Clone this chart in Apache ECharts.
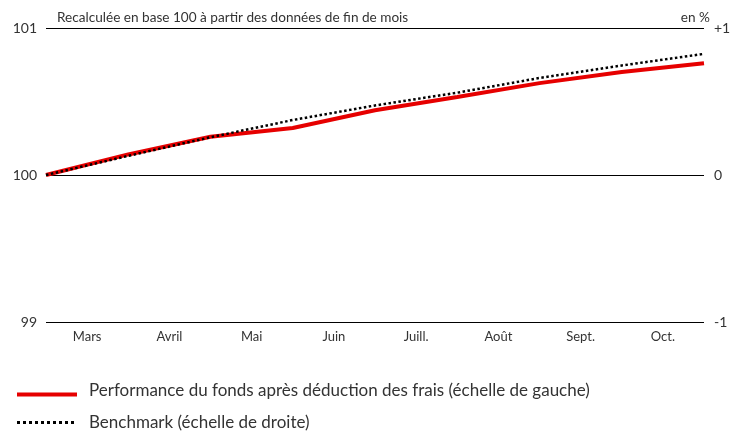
<!DOCTYPE html>
<html>
<head>
<meta charset="utf-8">
<script src="https://cdn.jsdelivr.net/npm/echarts@6/dist/echarts.min.js"></script>
<style>
  html, body { margin: 0; padding: 0; background: #fff; }
  #chart { width: 737px; height: 434px; }
</style>
</head>
<body>
<div id="chart"></div>
<script>
// mois affichés sous l'axe (au centre de chaque intervalle)
const months = ["Mars", "Avril", "Mai", "Juin", "Juill.", "Août", "Sept.", "Oct."];
// valeurs de fin de mois, base 100 (fonds) et en % (benchmark)
const fundValues = [100.00, 100.14, 100.26, 100.32, 100.44, 100.53, 100.625, 100.70, 100.76];
const benchValues = [0.00, 0.13, 0.257, 0.374, 0.473, 0.56, 0.66, 0.745, 0.824];
const leftTicks = [99, 100, 101];
const rightTicks = [-1, 0, 1];

const fundName = "Performance du fonds après déduction des frais (échelle de gauche)";
const benchName = "Benchmark (échelle de droite)";

const font = "Lato";
const textColor = "#333";

// icônes de légende : trait plein rouge (un peu sous le texte), trait pointillé noir
const solidIcon = "path://M0,0h0.01v0.01h-0.01zM0,8h60v4h-60z";
let dotIcon = "path://";
for (let i = 0; i < 10; i++) {
  dotIcon += "M" + (i * 6) + ",0h3v3h-3z";
}

let chart = echarts.init(document.getElementById("chart"));

let options = {
  animation: false,
  textStyle: { fontFamily: font },
  title: [
    {
      text: "Recalculée en base 100 à partir des données de fin de mois",
      left: 52,
      top: 6,
      textStyle: { fontFamily: font, fontSize: 13.6, fontWeight: "normal", color: textColor }
    },
    {
      text: "en %",
      right: 22,
      top: 6,
      textStyle: { fontFamily: font, fontSize: 13.6, fontWeight: "normal", color: textColor }
    }
  ],
  grid: { left: 46, right: 33, top: 28, bottom: 112 },
  legend: [
    {
      left: 12,
      top: 377,
      itemWidth: 60,
      itemHeight: 12,
      icon: solidIcon,
      textStyle: { fontFamily: font, fontSize: 17, color: textColor, padding: [0, 0, 0, 7] },
      data: [fundName]
    },
    {
      left: 12,
      top: 409,
      itemWidth: 57,
      itemHeight: 3,
      icon: dotIcon,
      textStyle: { fontFamily: font, fontSize: 17, color: textColor, padding: [0, 0, 0, 10] },
      data: [benchName]
    }
  ],
  xAxis: [
    {
      type: "category",
      data: months,
      boundaryGap: true,
      axisLine: { show: false },
      axisTick: { show: false },
      axisLabel: { color: textColor, fontSize: 13, margin: 8 }
    },
    {
      type: "value",
      min: 0,
      max: fundValues.length - 1,
      show: false
    }
  ],
  yAxis: [
    {
      type: "value",
      min: leftTicks[0],
      max: leftTicks[leftTicks.length - 1],
      interval: 1,
      axisLine: { show: false },
      axisTick: { show: false },
      axisLabel: { color: textColor, fontSize: 14, margin: 9 },
      splitLine: { lineStyle: { color: "#000", width: 1 } }
    },
    {
      type: "value",
      min: rightTicks[0],
      max: rightTicks[rightTicks.length - 1],
      interval: 1,
      position: "right",
      axisLine: { show: false },
      axisTick: { show: false },
      splitLine: { show: false },
      axisLabel: {
        color: textColor,
        fontSize: 14,
        margin: 10,
        formatter: v => (v > 0 ? "+" + v : String(v))
      }
    }
  ],
  series: [
    {
      name: fundName,
      type: "line",
      xAxisIndex: 1,
      yAxisIndex: 0,
      symbol: "none",
      color: "#e60000",
      lineStyle: { color: "#e60000", width: 4 },
      data: fundValues.map((v, i) => [i, v])
    },
    {
      name: benchName,
      type: "line",
      xAxisIndex: 1,
      yAxisIndex: 1,
      symbol: "none",
      color: "#000",
      lineStyle: { color: "#000", width: 2.5, type: [2.5, 2.5] },
      data: benchValues.map((v, i) => [i, v])
    }
  ]
};

chart.setOption(options, true);
window.onresize = function() {
  chart.resize();
};
</script>
</body>
</html>
